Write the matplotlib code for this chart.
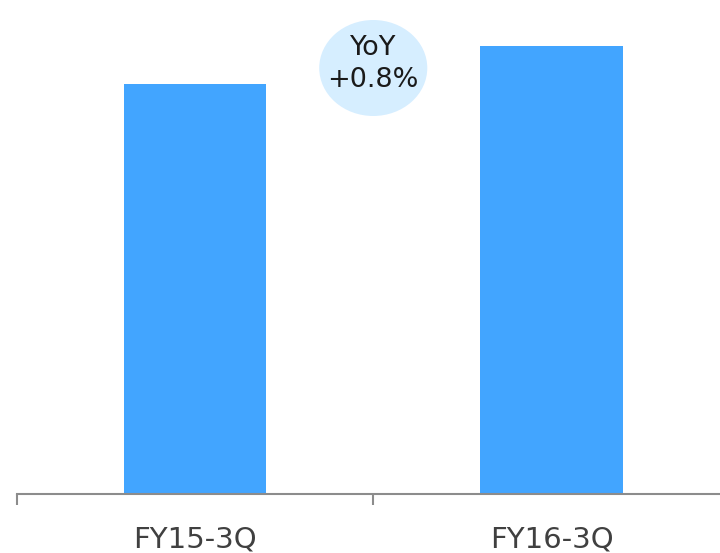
import matplotlib
matplotlib.use("Agg")
import matplotlib.pyplot as plt
from matplotlib.patches import Ellipse

# data (arbitrary units)
categories = ["FY15-3Q", "FY16-3Q"]
values = [410, 448]
yoy_text = "YoY\n+0.8%"

bar_color = "#42A5FF"
bubble_color = "#D6EEFF"
axis_color = "#8C8C8C"

fig = plt.figure(figsize=(7.2, 5.53), dpi=100)
ax = fig.add_axes([16.5 / 720, 59 / 553, (730 - 16.5) / 720, 494 / 553])

x = list(range(len(categories)))
ax.bar(x, values, width=0.4, color=bar_color, zorder=2)

ax.set_xlim(-0.5, len(categories) - 0.5)
ax.set_ylim(0, 494)

# bubble between the bars
bubble = Ellipse((0.5, 494 - 68), width=108 / 356.5, height=96,
                 facecolor=bubble_color, edgecolor="none", zorder=3)
ax.add_patch(bubble)
ax.text(0.5, 494 - 64, yoy_text, ha="center", va="center", fontsize=19.5,
        color="#1a1a1a", linespacing=1.3, zorder=4, family="DejaVu Sans")

# axes styling
for s in ["top", "right", "left"]:
    ax.spines[s].set_visible(False)
ax.spines["bottom"].set_color(axis_color)
ax.spines["bottom"].set_linewidth(1.5)
ax.set_yticks([])
ax.set_xticks(x)
ax.set_xticklabels(categories, fontsize=21, color="#404040")
ax.tick_params(axis="x", which="major", length=0, pad=23)
ax.set_xticks([-0.5, 0.5, 1.5], minor=True)
ax.tick_params(axis="x", which="minor", length=8, width=1.5, color=axis_color)

fig.savefig("out.png", dpi=100)
